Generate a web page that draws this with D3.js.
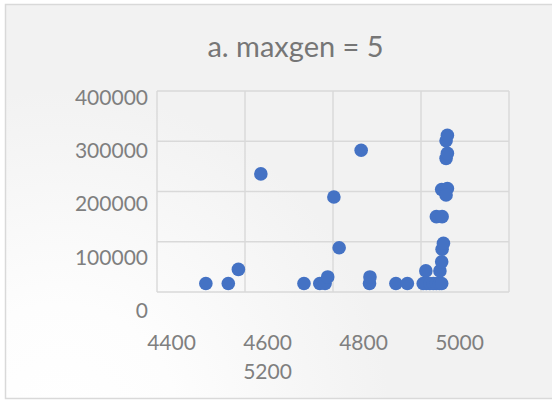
<!DOCTYPE html>
<html>
<head>
<meta charset="utf-8">
<script src="https://cdn.jsdelivr.net/npm/d3@7"></script>
<style>
  body { margin: 0; background: #fff; }
  svg { display: block; }
  text { font-family: Lato, "Open Sans", sans-serif; }
</style>
</head>
<body>
<div id="chart"></div>
<script>
// data
var titleText = "a. maxgen = 5";
var xVals = [4511, 4562, 4585, 4636, 4734, 4770, 4782, 4788, 4802, 4814, 4864, 4883, 4884, 4943, 4969,
  5005, 5012, 5020, 5028, 5035, 5042, 5047, 5011, 5043, 5047, 5048, 5051, 5035, 5048,
  5047, 5060, 5057, 5057, 5060, 5057, 5060];
var yVals = [17000, 17000, 45000, 235000, 17000, 17000, 17000, 30000, 189000, 88000, 282000, 17000, 30000, 17000, 17000,
  17000, 17000, 17000, 17000, 17000, 17000, 17000, 42000, 42000, 60000, 85000, 97000, 150000, 150000,
  204000, 206000, 193000, 266000, 276000, 301000, 312000];
var xTicks = [4400, 4600, 4800, 5000, 5200];
var yTicks = [0, 100000, 200000, 300000, 400000];

var width = 552, height = 401;
var plot = { left: 157, right: 509, top: 91, bottom: 292 };

var svg = d3.select('#chart').append('svg').attr('width', width).attr('height', height);

// background gradient, whitish toward bottom left
var defs = svg.append('defs');
var grad = defs.append('radialGradient').attr('id', 'bg')
  .attr('gradientUnits', 'userSpaceOnUse')
  .attr('cx', 60).attr('cy', 420).attr('r', 330);
grad.append('stop').attr('offset', '0%').attr('stop-color', '#ffffff');
grad.append('stop').attr('offset', '35%').attr('stop-color', '#fdfdfd');
grad.append('stop').attr('offset', '100%').attr('stop-color', '#f2f2f2');

svg.append('rect').attr('x', 5.5).attr('y', 4.5).attr('width', 600).attr('height', 394)
  .attr('fill', 'url(#bg)').attr('stroke', '#d9d9d9').attr('stroke-width', 1.5);

var x = d3.scaleLinear().domain([4400, 5200]).range([plot.left, plot.right]);
var y = d3.scaleLinear().domain([0, 400000]).range([plot.bottom, plot.top]);

// tick text sits on its own slightly wider spacing, as in the picture
var xLab = d3.scaleLinear().domain([4400, 5200]).range([171.5, 555.5]);
var yLab = d3.scaleLinear().domain([0, 400000]).range([310.5, 97]);

// grid
var grid = svg.append('g').attr('stroke', '#d9d9d9').attr('stroke-width', 1.4);
grid.selectAll('line.h').data(yTicks).join('line').attr('class', 'h')
  .attr('x1', plot.left).attr('x2', plot.right)
  .attr('y1', function (d) { return y(d); }).attr('y2', function (d) { return y(d); });
grid.selectAll('line.v').data(xTicks).join('line').attr('class', 'v')
  .attr('y1', plot.top).attr('y2', plot.bottom)
  .attr('x1', function (d) { return x(d); }).attr('x2', function (d) { return x(d); });

// y tick labels
svg.append('g').selectAll('text').data(yTicks).join('text')
  .attr('x', 148).attr('y', function (d) { return yLab(d); })
  .attr('dy', '0.36em').attr('text-anchor', 'end')
  .attr('font-size', 21).attr('fill', '#7f7f7f')
  .text(function (d) { return d; });

// x tick labels; the one that runs off the edge wraps onto a second row
svg.append('g').selectAll('text').data(xTicks).join('text')
  .attr('x', function (d) { return xLab(d) + 24 > width ? xLab(xTicks[1]) : xLab(d); })
  .attr('y', function (d) { return xLab(d) + 24 > width ? 371 : 342.5; })
  .attr('dy', '0.36em').attr('text-anchor', 'middle')
  .attr('font-size', 21).attr('fill', '#7f7f7f')
  .text(function (d) { return d; });

// points
svg.append('g').selectAll('circle').data(xVals).join('circle')
  .attr('cx', function (d) { return x(d); })
  .attr('cy', function (d, i) { return y(yVals[i]); })
  .attr('r', 6.8)
  .attr('fill', '#4472c4');

// title
svg.append('text').attr('x', 295.5).attr('y', 56.5).attr('text-anchor', 'middle')
  .attr('font-size', 29).attr('fill', '#767676')
  .text(titleText);
</script>
</body>
</html>
